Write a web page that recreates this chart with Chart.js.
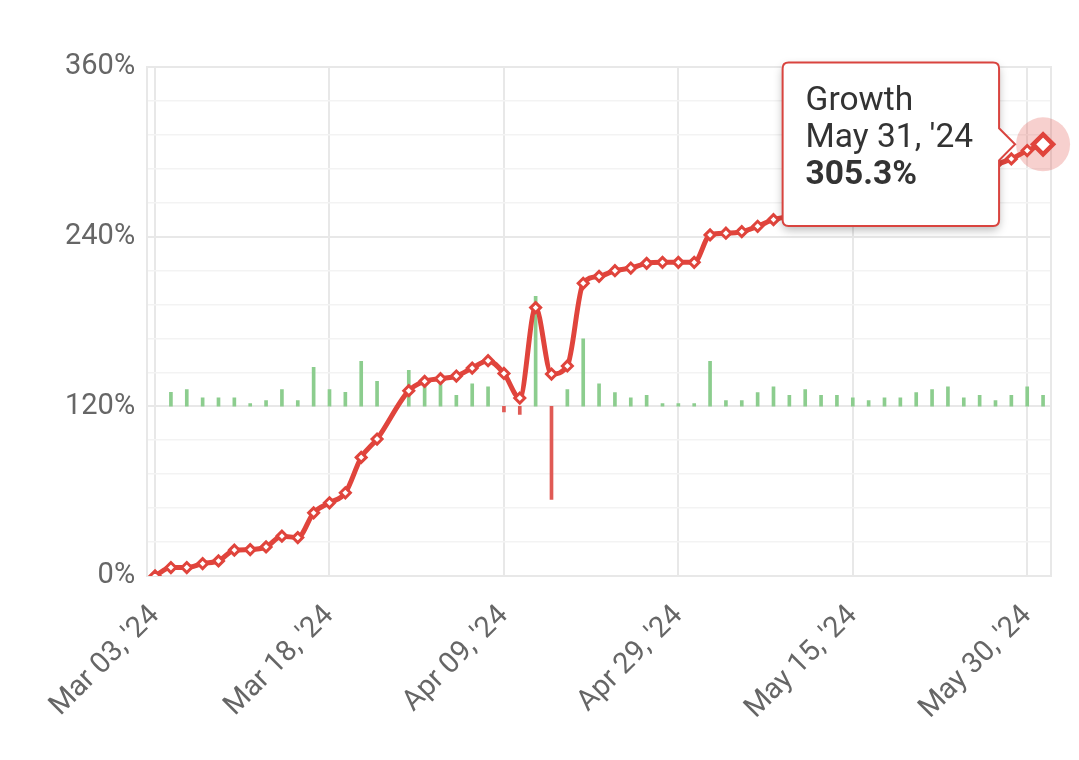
<!DOCTYPE html>
<html>
<head>
<meta charset="utf-8">
<script src="https://cdn.jsdelivr.net/npm/chart.js@4.4.1/dist/chart.umd.min.js"></script>
<style>
  html, body { margin: 0; padding: 0; background: #fff; }
  #wrap { width: 1079px; height: 760px; }
</style>
</head>
<body>
<div id="wrap"><canvas id="growthChart" width="1079" height="760"></canvas></div>
<script>
// trading days shown on the category axis
const labels = [
  "Mar 03, '24", "Mar 04, '24", "Mar 05, '24", "Mar 06, '24", "Mar 07, '24", "Mar 08, '24",
  "Mar 11, '24", "Mar 12, '24", "Mar 13, '24", "Mar 14, '24", "Mar 15, '24", "Mar 18, '24",
  "Mar 19, '24", "Mar 20, '24", "Mar 21, '24", "Mar 22, '24", "Mar 25, '24", "Mar 26, '24",
  "Mar 27, '24", "Mar 28, '24", "Apr 03, '24", "Apr 05, '24", "Apr 09, '24",
  "Apr 10, '24", "Apr 11, '24", "Apr 12, '24", "Apr 15, '24", "Apr 16, '24", "Apr 17, '24",
  "Apr 18, '24", "Apr 22, '24", "Apr 24, '24", "Apr 26, '24", "Apr 29, '24",
  "Apr 30, '24", "May 01, '24", "May 02, '24", "May 03, '24", "May 06, '24", "May 07, '24",
  "May 08, '24", "May 10, '24", "May 13, '24", "May 14, '24", "May 15, '24",
  "May 16, '24", "May 17, '24", "May 20, '24", "May 21, '24", "May 22, '24", "May 23, '24",
  "May 24, '24", "May 27, '24", "May 28, '24", "May 29, '24", "May 30, '24", "May 31, '24"
];

// cumulative growth, %
const growth = [
  0, 5.9, 5.9, 8.7, 10.6, 18.2, 18.6, 20.5, 28.1, 27.1, 44.6, 51.7,
  58.8, 83.8, 96.8, null, 131, 137.6, 139.5, 141.4, 147, 152.2, 143.2,
  125.8, 189.8, 142.8, 148.5, 207, 211.9, 215.9, 217.8, 221.1, 221.8, 221.8,
  221.8, 241.2, 242.4, 243.5, 247.3, 252, 254.5, 258, 260.5, 263, 265,
  266.5, 268.5, 270.5, 274, 278, 283, 285, 288, 291, 295, 300.9, 305.3
];

// daily change, drawn as thin bars around the 120% line
const daily = [
  null, 0.66, 0.79, 0.40, 0.40, 0.40, 0.13, 0.27, 0.79, 0.27, 1.84, 0.79,
  0.66, 2.12, 1.18, null, 1.70, 0.92, 1.18, 0.52, 1.06, 0.92, -0.27,
  -0.38, 5.19, -4.39, 0.79, 3.18, 1.06, 0.65, 0.40, 0.52, 0.13, 0.13,
  0.13, 2.12, 0.27, 0.27, 0.65, 0.92, 0.52, 0.79, 0.52, 0.52, 0.40,
  0.27, 0.40, 0.40, 0.65, 0.79, 0.92, 0.40, 0.52, 0.27, 0.52, 0.92, 0.52
];

// y grid every 24%, labelled every 120%
const yTickValues = [0, 24, 48, 72, 96, 120, 144, 168, 192, 216, 240, 264, 288, 312, 336, 360];
const yMajorStep = 120;
const activeIndex = growth.length - 1;

const RED = '#e0443c';
const FONT = 'Roboto';

const isMajor = v => Math.round(v) % yMajorStep === 0;

// soft shadow behind the tooltip box
const tooltipShadow = {
  id: 'tooltipShadow',
  beforeTooltipDraw(chart, args) {
    const t = args.tooltip;
    if (!t || t.opacity === 0) return;
    const ctx = chart.ctx;
    ctx.save();
    ctx.shadowColor = 'rgba(0,0,0,0.28)';
    ctx.shadowBlur = 10;
    ctx.shadowOffsetY = 4;
    ctx.fillStyle = '#fff';
    ctx.beginPath();
    ctx.roundRect(t.x, t.y, t.width, t.height, 6);
    ctx.fill();
    ctx.restore();
  }
};

// pink halo around the hovered point
const hoverHalo = {
  id: 'hoverHalo',
  beforeDatasetsDraw(chart) {
    const active = chart.getActiveElements();
    if (!active.length) return;
    const el = active[0].element;
    const ctx = chart.ctx;
    ctx.save();
    ctx.fillStyle = 'rgba(224,68,60,0.25)';
    ctx.beginPath();
    ctx.arc(el.x, el.y, 27, 0, Math.PI * 2);
    ctx.fill();
    ctx.restore();
  }
};

const chart = new Chart(document.getElementById('growthChart'), {
  data: {
    labels: labels,
    datasets: [{
      type: 'line',
      label: 'Growth',
      data: growth,
      yAxisID: 'y',
      borderColor: RED,
      borderWidth: 5,
      spanGaps: true,
      cubicInterpolationMode: 'monotone',
      pointStyle: 'rectRot',
      pointRadius: 5,
      pointBorderWidth: 3,
      pointBackgroundColor: '#fff',
      pointBorderColor: RED,
      pointHoverRadius: 10,
      pointHoverBorderWidth: 4.5,
      pointHoverBackgroundColor: '#fff',
      pointHoverBorderColor: RED,
      order: 0
    }, {
      type: 'bar',
      label: 'Daily',
      data: daily,
      yAxisID: 'y1',
      barThickness: 3,
      backgroundColor: daily.map(v => v < 0 ? '#e05a55' : '#8ccd8e'),
      order: 1
    }]
  },
  options: {
    responsive: false,
    animation: false,
    events: [],
    layout: { padding: { left: 53, right: 28, top: 67, bottom: 11 } },
    plugins: {
      legend: { display: false },
      tooltip: {
        enabled: true,
        backgroundColor: '#fff',
        borderColor: '#d9443f',
        borderWidth: 2,
        cornerRadius: 6,
        caretSize: 16,
        caretPadding: 28,
        xAlign: 'right',
        yAlign: 'center',
        displayColors: false,
        padding: { top: 21, bottom: 32, left: 23, right: 26 },
        titleColor: '#333',
        bodyColor: '#333',
        titleFont: { family: FONT, size: 33.5, weight: 'normal', lineHeight: 1.1 },
        bodyFont: { family: FONT, size: 33.5, weight: 'bold', lineHeight: 1.1 },
        titleSpacing: 0,
        titleMarginBottom: 0,
        callbacks: {
          title: items => ['Growth', labels[items[0].dataIndex]],
          label: item => item.parsed.y.toFixed(1) + '%'
        }
      }
    },
    scales: {
      x: {
        offset: true,
        grid: {
          offset: false,
          drawTicks: false,
          color: '#e8e8e8',
          lineWidth: 2
        },
        border: { color: '#e8e8e8', width: 2 },
        ticks: {
          autoSkip: false,
          maxRotation: 45,
          minRotation: 45,
          padding: 23,
          color: '#666',
          font: { family: FONT, size: 29 },
          callback: (v, i) => i % 11 === 0 ? labels[i] : null
        }
      },
      y: {
        min: yTickValues[0],
        max: yTickValues[yTickValues.length - 1],
        afterBuildTicks: axis => {
          axis.ticks = yTickValues.map(v => ({ value: v }));
        },
        grid: {
          drawTicks: false,
          color: c => isMajor(c.tick.value) ? '#e8e8e8' : '#f3f3f3',
          lineWidth: c => isMajor(c.tick.value) ? 2 : 1.5
        },
        border: { color: '#e8e8e8', width: 2 },
        ticks: {
          autoSkip: false,
          padding: 12,
          color: '#666',
          font: { family: FONT, size: 29 },
          callback: v => isMajor(v) ? Math.round(v) + '%' : ''
        }
      },
      y1: {
        position: 'right',
        min: -8,
        max: 16,
        grid: { display: false, drawTicks: false },
        border: { color: '#e8e8e8', width: 2 },
        ticks: { display: false }
      }
    }
  },
  plugins: [tooltipShadow, hoverHalo]
});

const meta = chart.getDatasetMeta(0);
const pt = meta.data[activeIndex];
chart.setActiveElements([{ datasetIndex: 0, index: activeIndex }]);
chart.tooltip.setActiveElements([{ datasetIndex: 0, index: activeIndex }], { x: pt.x, y: pt.y });
chart.update();
</script>
</body>
</html>
